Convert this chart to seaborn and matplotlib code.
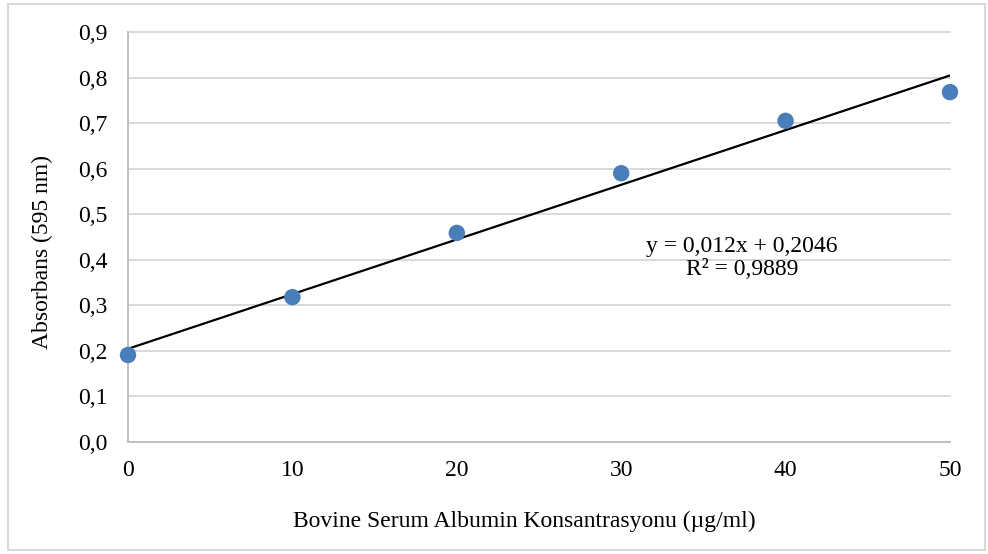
import matplotlib
matplotlib.use("Agg")
import matplotlib.pyplot as plt
from matplotlib.patches import Rectangle
import seaborn as sns
import pandas as pd
import numpy as np

# Calibration data: BSA concentration vs. absorbance at 595 nm
concentration = [0, 10, 20, 30, 40, 50]
absorbance = [0.191, 0.318, 0.459, 0.590, 0.705, 0.768]

# Linear trendline coefficients and fit quality
slope = 0.012
intercept = 0.2046
r_squared = 0.9889

y_ticks = [0.0, 0.1, 0.2, 0.3, 0.4, 0.5, 0.6, 0.7, 0.8, 0.9]
x_ticks = [0, 10, 20, 30, 40, 50]

sns.set_theme(style="white")
plt.rcParams["font.family"] = ["Liberation Serif", "DejaVu Serif"]
plt.rcParams["text.color"] = "black"
plt.rcParams["axes.labelcolor"] = "black"
plt.rcParams["xtick.labelcolor"] = "black"
plt.rcParams["ytick.labelcolor"] = "black"

df = pd.DataFrame({"conc": concentration, "abs": absorbance})

fig = plt.figure(figsize=(9.88, 5.54), dpi=100)
ax = fig.add_axes([128 / 988, 1 - 442 / 554, (950 - 128) / 988, (442 - 32) / 554])

# Outer chart frame
fig.patches.append(Rectangle((8 / 988, 4 / 554), (985 - 8) / 988, (550 - 4) / 554,
                             transform=fig.transFigure, fill=False,
                             edgecolor="#d9d9d9", linewidth=1.5, zorder=0))

ax.set_xlim(0, 50)
ax.set_ylim(0, 0.9)

for yv in y_ticks[1:]:
    ax.axhline(yv, color="#d9d9d9", linewidth=1.4, zorder=0, clip_on=False)

x_line = np.array([min(concentration), max(concentration)], dtype=float)
sns.lineplot(x=x_line, y=slope * x_line + intercept, ax=ax, color="black",
             linewidth=1.6, zorder=2)
sns.scatterplot(data=df, x="conc", y="abs", ax=ax, color="#4a7ebb", s=140,
                edgecolor="none", zorder=3, clip_on=False)

ax.set_xticks(x_ticks)
ax.set_xticklabels([str(v) for v in x_ticks], fontsize=17)
ax.set_yticks(y_ticks)
ax.set_yticklabels([f"{v:.1f}".replace(".", ",") for v in y_ticks], fontsize=17)

for side in ["top", "right"]:
    ax.spines[side].set_visible(False)
for side in ["left", "bottom"]:
    ax.spines[side].set_color("#bfbfbf")
    ax.spines[side].set_linewidth(1.4)

ax.tick_params(axis="x", direction="in", length=5, color="#bfbfbf", width=1.2, pad=13)
ax.tick_params(axis="y", length=0, pad=15)

ax.set_xlabel("Bovine Serum Albumin Konsantrasyonu (µg/ml)", fontsize=17, va="center")
ax.set_ylabel("Absorbans (595 nm)", fontsize=17, va="center")
ax.xaxis.set_label_coords((524 - 128) / 822, (442 - 521) / 410)
ax.yaxis.set_label_coords((42 - 128) / 822, (442 - 252) / 410)

eq = f"y = {slope:.3f}x + {intercept:.4f}".replace(".", ",")
r2 = f"R² = {r_squared:.4f}".replace(".", ",")
ax.text(742 / 988, 1 - 258 / 554, eq + "\n" + r2, transform=fig.transFigure,
        ha="center", va="center", fontsize=17, linespacing=1.12)

fig.savefig("out.png", dpi=100)
